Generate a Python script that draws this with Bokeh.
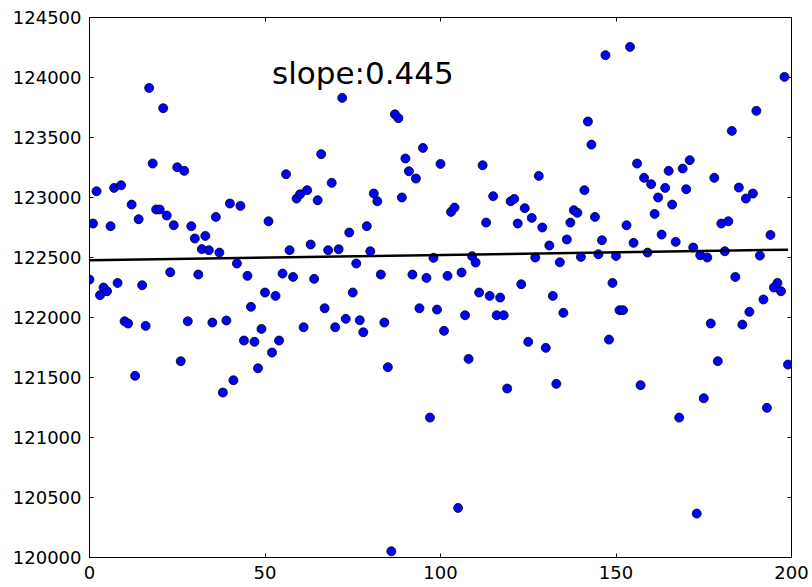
import numpy as np
from bokeh.plotting import figure
from bokeh.models import LinearAxis, SingleIntervalTicker, PrintfTickFormatter
from bokeh.core.properties import value
from bokeh.embed import file_html
from bokeh.resources import INLINE

# sample index and measured values
x_vals = list(range(200))
y_vals = [
    122316, 122783, 123052, 122186, 122250, 122219, 122761, 123080, 122288, 123102,
    121969, 121950, 122941, 121514, 122819, 122269, 121930, 123913, 123283, 122900,
    122900, 123744, 122850, 122377, 122769, 123252, 121636, 123222, 121969, 122761,
    122658, 122358, 122570, 122680, 122561, 121958, 122838, 122541, 121375, 121975,
    122950, 121477, 122450, 122930, 121808, 122347, 122089, 121797, 121577, 121905,
    122208, 122802, 121708, 122180, 121808, 122366, 123194, 122561, 122338, 122991,
    123027, 121919, 123061, 122608, 122322, 122977, 123361, 122077, 122561, 123122,
    121919, 122569, 123830, 121989, 122708, 122208, 122450, 121977, 121877, 122761,
    122552, 123033, 122969, 122358, 121958, 121586, 120052, 123694, 123661, 123000,
    123325, 123219, 122358, 123158, 122077, 123413, 122330, 121166, 122497, 122066,
    123280, 121889, 122347, 122880, 122916, 120413, 122375, 122019, 121655, 122511,
    122458, 122208, 123269, 122791, 122180, 123011, 122019, 122166, 122019, 121408,
    122969, 122988, 122783, 122277, 122911, 121797, 122830, 122500, 123180, 122750,
    121747, 122600, 122180, 121447, 122460, 122039, 122650, 122791, 122894, 122872,
    122505, 123061, 123633, 123441, 122838, 122527, 122644, 124186, 121816, 122288,
    122513, 122061, 122061, 122769, 124255, 122622, 123283, 121436, 123164, 122541,
    123111, 122863, 123000, 122691, 123080, 123222, 122941, 122630, 121166, 123241,
    123069, 123311, 122583, 120366, 122519, 121327, 122500, 121950, 123164, 121636,
    122783, 122552, 122802, 123555, 122338, 123083, 121941, 122991, 122047, 123033,
    123722, 122516, 122150, 121247, 122688, 122250, 122288, 122219, 124005, 121608,
]
x_tick_values = [0, 50, 100, 150, 200]
y_tick_values = [120000, 120500, 121000, 121500, 122000, 122500, 123000, 123500, 124000, 124500]
slope = 0.445

x = np.array(x_vals, dtype=float)
y = np.array(y_vals, dtype=float)

# trend line with the reported slope, passing through the data centroid
intercept = y.mean() - slope * x.mean()
line_x = np.array([x.min(), x.max()])
line_y = intercept + slope * line_x

FONT = "DejaVu Sans"

p = figure(
    width=812, height=587,
    x_range=(0, 200), y_range=(120000, 124500),
    output_backend="svg", toolbar_location=None,
    min_border_left=89, min_border_right=21,
    min_border_top=17, min_border_bottom=30,
)
p.background_fill_color = "white"
p.border_fill_color = "white"
p.xgrid.visible = False
p.ygrid.visible = False
p.outline_line_color = "black"
p.outline_line_width = 1
p.outline_line_alpha = 1.0

xticker = SingleIntervalTicker(interval=50, num_minor_ticks=0)
yticker = SingleIntervalTicker(interval=500, num_minor_ticks=0)


def style_axis(ax, show_labels, ticks=None):
    ax.axis_line_color = None
    ax.major_tick_in = 4
    ax.major_tick_out = 0
    ax.minor_tick_in = 0
    ax.minor_tick_out = 0
    ax.major_tick_line_color = "black"
    ax.major_tick_line_width = 1
    if show_labels:
        ax.major_label_text_font = FONT
        ax.major_label_text_font_size = "18px"
        ax.major_label_text_color = "black"
        ax.major_label_standoff = 8
    else:
        # tick marks only on the mirrored sides
        ax.major_label_overrides = {t: "" for t in ticks}
        ax.major_label_text_color = None
        ax.major_label_standoff = 0


p.xaxis.ticker = xticker
p.yaxis.ticker = yticker
p.yaxis.formatter = PrintfTickFormatter(format="%d")
style_axis(p.xaxis[0], True)
style_axis(p.yaxis[0], True)

top_ax = LinearAxis(ticker=xticker)
right_ax = LinearAxis(ticker=yticker)
style_axis(top_ax, False, x_tick_values)
style_axis(right_ax, False, y_tick_values)
p.add_layout(top_ax, "above")
p.add_layout(right_ax, "right")

p.scatter(x, y, size=9, fill_color="blue", line_color="black", line_width=0.8)
p.line(line_x, line_y, line_color="black", line_width=2.5)

p.text(x=[52], y=[124040], text=[f"slope:{slope}"],
       text_font=value(FONT), text_font_size="31px",
       text_baseline="alphabetic", text_align="left", text_color="black")

open("out.html", "w").write(file_html(p, INLINE))
